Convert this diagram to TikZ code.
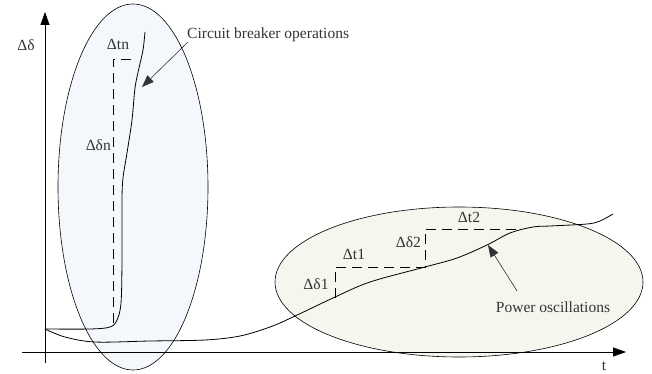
\documentclass[tikz,border=0pt]{standalone}
\usepackage{fontspec}
\setmainfont{Liberation Serif}
\usetikzlibrary{arrows.meta,shapes.geometric}
\definecolor{bluefill}{HTML}{F4F7FC}
\definecolor{greenfill}{HTML}{F5F7EE}
\definecolor{txt}{HTML}{333333}
\tikzset{
  zone/.style={draw=black, line width=0.6pt},
  curve/.style={draw=black, line width=0.8pt},
  stepline/.style={draw=black, line width=0.7pt, dash pattern=on 10pt off 6pt},
  axisline/.style={draw=black, line width=0.8pt, -{Triangle[length=13pt,width=9pt]}},
  pointer/.style={draw=txt, line width=0.6pt, -{Triangle[length=12pt,width=9pt]}},
  lbl/.style={font=\fontsize{15.5}{17}\selectfont, text=txt, inner sep=0pt}
}
\begin{document}
\begin{tikzpicture}[x=1pt,y=-1pt]
\useasboundingbox (0,0) rectangle (652,374);
% zones
\path[zone, fill=bluefill] (133,187) ellipse [x radius=75, y radius=183];
\path[zone, fill=greenfill] (459,282) ellipse [x radius=184, y radius=75];
% axes
\coordinate (yb) at (45,363);
\coordinate (yt) at (45,12);
\coordinate (xl) at (22,352);
\coordinate (xr) at (626,352);
\draw[axisline] (yb) -- (yt);
\draw[axisline] (xl) -- (xr);
\node[lbl] (dd) at (26,45) {Δδ};
\node[lbl] (t) at (604,366) {t};
% curves
\draw[curve] plot[smooth, tension=0.55] coordinates {(45,329) (90,329) (110,327) (117,320) (121,303) (122,260) (122,200) (123,178) (127,153) (132,120) (135,88) (139,68) (143,50) (145,32)};
\draw[curve] plot[smooth, tension=0.55] coordinates {(45,329) (65,337) (95,342) (150,341) (205,340) (240,336) (270,327) (293,317) (333,298) (370,282) (425,267) (457,258) (487,245) (510,233) (533,227) (550,226) (587,224) (600,221) (613,214)};
% steps
\coordinate (n0) at (113,323);
\coordinate (n1) at (113,59);
\coordinate (n2) at (131,59);
\draw[stepline] (n0) -- (n1) -- (n2);
\coordinate (s0) at (335,298);
\coordinate (s1) at (335,267);
\coordinate (s2) at (425,267);
\coordinate (s3) at (425,229);
\coordinate (s4) at (520,229);
\draw[stepline] (s0) -- (s1) -- (s2) -- (s3) -- (s4);
% labels
\node[lbl] (dtn) at (118,44) {Δtn};
\node[lbl, anchor=east] (ddn) at (111,145) {Δδn};
\node[lbl] (dd1) at (316,284) {Δδ1};
\node[lbl] (dt1) at (354,254) {Δt1};
\node[lbl, anchor=east] (dd2) at (421,242) {Δδ2};
\node[lbl] (dt2) at (469,217) {Δt2};
\node[lbl, anchor=west] (cbo) at (187,35) {Circuit breaker operations};
\node[lbl] (po) at (553,307) {Power oscillations};
% pointers
\coordinate (cbotip) at (142,87);
\coordinate (cbostart) at (188,42);
\coordinate (potip) at (488,245);
\coordinate (postart) at (517,291);
\draw[pointer] (cbostart) -- (cbotip);
\draw[pointer] (postart) -- (potip);
\end{tikzpicture}
\end{document}
